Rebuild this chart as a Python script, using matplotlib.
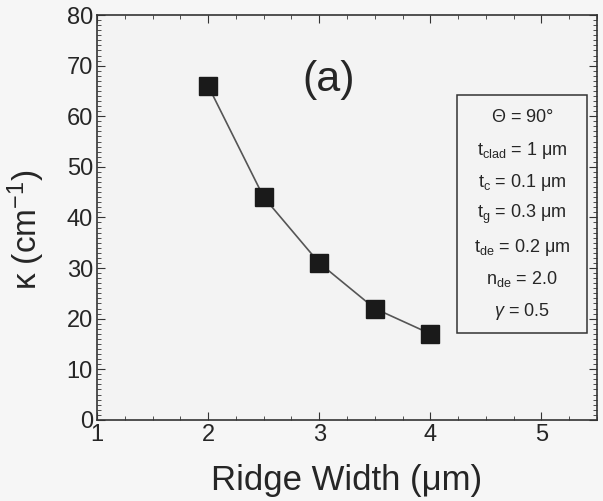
import matplotlib
matplotlib.use("Agg")
import matplotlib.pyplot as plt
from matplotlib.ticker import MultipleLocator
from matplotlib.patches import Rectangle

plt.rcParams['font.family'] = ['Liberation Sans', 'DejaVu Sans']
plt.rcParams['mathtext.fontset'] = 'custom'
plt.rcParams['mathtext.rm'] = 'Liberation Sans'
plt.rcParams['mathtext.it'] = 'Liberation Sans:italic'

# --- data ---
ridge_width = [2.0, 2.5, 3.0, 3.5, 4.0]
kappa = [66, 44, 31, 22, 17]

param_lines = [
    r'$\Theta$ = 90°',
    r'$\mathrm{t}_{\mathrm{clad}}$ = 1 μm',
    r'$\mathrm{t}_{\mathrm{c}}$ = 0.1 μm',
    r'$\mathrm{t}_{\mathrm{g}}$ = 0.3 μm',
    r'$\mathrm{t}_{\mathrm{de}}$ = 0.2 μm',
    r'$\mathrm{n}_{\mathrm{de}}$ = 2.0',
    r'$\gamma$ = 0.5',
]

ink = '#262626'

fig = plt.figure(figsize=(6.03, 5.01), dpi=100, facecolor='#f6f6f6')
ax = fig.add_axes([0.161, 0.162, 0.829, 0.808])
ax.set_facecolor('#f3f3f3')

ax.plot(ridge_width, kappa, color='#555555', lw=1.2, marker='s',
        markersize=13, markerfacecolor='#1a1a1a', markeredgecolor='#1a1a1a')

ax.set_xlim(1, 5.5)
ax.set_ylim(0, 80)
ax.xaxis.set_major_locator(MultipleLocator(1))
ax.xaxis.set_minor_locator(MultipleLocator(0.25))
ax.yaxis.set_major_locator(MultipleLocator(10))
ax.yaxis.set_minor_locator(MultipleLocator(1))
ax.tick_params(which='both', direction='in', top=True, right=True,
               labelsize=17, color='#333333', labelcolor=ink)
ax.tick_params(which='major', length=6, pad=3)
ax.tick_params(which='minor', length=3)
for s in ax.spines.values():
    s.set_linewidth(1.2)
    s.set_color('#333333')

ax.set_xlabel('Ridge Width (μm)', fontsize=25, color=ink, labelpad=13)
ax.set_ylabel(r'κ (cm$^{-1}$)', fontsize=24, color=ink)
ax.yaxis.set_label_coords(-0.1, 0.47)

ax.text(0.464, 0.84, '(a)', fontsize=31, color=ink, ha='center', va='center',
        transform=ax.transAxes)

# parameter box
ax.add_patch(Rectangle((0.72, 0.215), 0.26, 0.588, transform=ax.transAxes,
                       facecolor='none', edgecolor='#333333', lw=1.1))
for i, line in enumerate(param_lines):
    ax.text(0.85, 0.746 - i * 0.0798, line, fontsize=13, color=ink,
            ha='center', va='center', transform=ax.transAxes)

fig.savefig('out.png', dpi=100, facecolor=fig.get_facecolor())
